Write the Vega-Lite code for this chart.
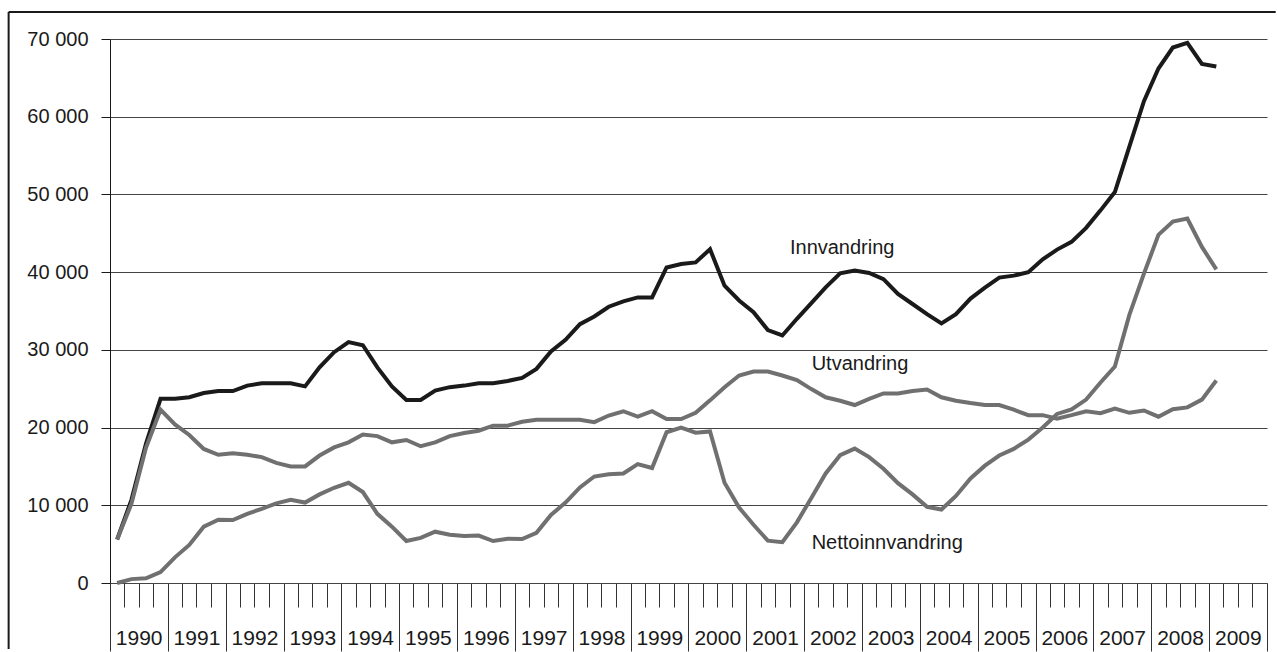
{
  "$schema": "https://vega.github.io/schema/vega-lite/v6.json",
  "autosize": "none",
  "width": 1157,
  "height": 544,
  "padding": {"left": 110, "top": 39, "right": 10, "bottom": 69},
  "background": "white",
  "config": {
    "view": {"stroke": null},
    "font": "Liberation Sans",
    "text": {"font": "Liberation Sans"}
  },
  "datasets": {
    "migration": [
      {"date": "1990-01-01", "Innvandring": 5600, "Utvandring": 5600, "Nettoinnvandring": 0},
      {"date": "1990-04-01", "Innvandring": 10700, "Utvandring": 10200, "Nettoinnvandring": 500},
      {"date": "1990-07-01", "Innvandring": 17900, "Utvandring": 17400, "Nettoinnvandring": 600},
      {"date": "1990-10-01", "Innvandring": 23700, "Utvandring": 22300, "Nettoinnvandring": 1400},
      {"date": "1991-01-01", "Innvandring": 23700, "Utvandring": 20400, "Nettoinnvandring": 3300},
      {"date": "1991-04-01", "Innvandring": 23900, "Utvandring": 19050, "Nettoinnvandring": 4900},
      {"date": "1991-07-01", "Innvandring": 24450, "Utvandring": 17250, "Nettoinnvandring": 7250},
      {"date": "1991-10-01", "Innvandring": 24700, "Utvandring": 16500, "Nettoinnvandring": 8150},
      {"date": "1992-01-01", "Innvandring": 24700, "Utvandring": 16700, "Nettoinnvandring": 8100},
      {"date": "1992-04-01", "Innvandring": 25400, "Utvandring": 16500, "Nettoinnvandring": 8900},
      {"date": "1992-07-01", "Innvandring": 25700, "Utvandring": 16200, "Nettoinnvandring": 9550},
      {"date": "1992-10-01", "Innvandring": 25700, "Utvandring": 15450, "Nettoinnvandring": 10250},
      {"date": "1993-01-01", "Innvandring": 25700, "Utvandring": 15000, "Nettoinnvandring": 10700},
      {"date": "1993-04-01", "Innvandring": 25300, "Utvandring": 15000, "Nettoinnvandring": 10350},
      {"date": "1993-07-01", "Innvandring": 27750, "Utvandring": 16400, "Nettoinnvandring": 11400},
      {"date": "1993-10-01", "Innvandring": 29700, "Utvandring": 17450, "Nettoinnvandring": 12250},
      {"date": "1994-01-01", "Innvandring": 31000, "Utvandring": 18100, "Nettoinnvandring": 12900},
      {"date": "1994-04-01", "Innvandring": 30600, "Utvandring": 19100, "Nettoinnvandring": 11700},
      {"date": "1994-07-01", "Innvandring": 27750, "Utvandring": 18900, "Nettoinnvandring": 8900},
      {"date": "1994-10-01", "Innvandring": 25300, "Utvandring": 18100, "Nettoinnvandring": 7250},
      {"date": "1995-01-01", "Innvandring": 23550, "Utvandring": 18400, "Nettoinnvandring": 5400},
      {"date": "1995-04-01", "Innvandring": 23550, "Utvandring": 17600, "Nettoinnvandring": 5800},
      {"date": "1995-07-01", "Innvandring": 24750, "Utvandring": 18100, "Nettoinnvandring": 6600},
      {"date": "1995-10-01", "Innvandring": 25200, "Utvandring": 18900, "Nettoinnvandring": 6200},
      {"date": "1996-01-01", "Innvandring": 25400, "Utvandring": 19300, "Nettoinnvandring": 6050},
      {"date": "1996-04-01", "Innvandring": 25700, "Utvandring": 19600, "Nettoinnvandring": 6100},
      {"date": "1996-07-01", "Innvandring": 25700, "Utvandring": 20250, "Nettoinnvandring": 5400},
      {"date": "1996-10-01", "Innvandring": 26000, "Utvandring": 20250, "Nettoinnvandring": 5700},
      {"date": "1997-01-01", "Innvandring": 26400, "Utvandring": 20750, "Nettoinnvandring": 5650},
      {"date": "1997-04-01", "Innvandring": 27550, "Utvandring": 21000, "Nettoinnvandring": 6450},
      {"date": "1997-07-01", "Innvandring": 29800, "Utvandring": 21000, "Nettoinnvandring": 8750},
      {"date": "1997-10-01", "Innvandring": 31300, "Utvandring": 21000, "Nettoinnvandring": 10350},
      {"date": "1998-01-01", "Innvandring": 33300, "Utvandring": 21000, "Nettoinnvandring": 12300},
      {"date": "1998-04-01", "Innvandring": 34300, "Utvandring": 20700, "Nettoinnvandring": 13700},
      {"date": "1998-07-01", "Innvandring": 35550, "Utvandring": 21550, "Nettoinnvandring": 14000},
      {"date": "1998-10-01", "Innvandring": 36250, "Utvandring": 22100, "Nettoinnvandring": 14100},
      {"date": "1999-01-01", "Innvandring": 36750, "Utvandring": 21400, "Nettoinnvandring": 15300},
      {"date": "1999-04-01", "Innvandring": 36750, "Utvandring": 22100, "Nettoinnvandring": 14800},
      {"date": "1999-07-01", "Innvandring": 40600, "Utvandring": 21100, "Nettoinnvandring": 19400},
      {"date": "1999-10-01", "Innvandring": 41050, "Utvandring": 21100, "Nettoinnvandring": 20000},
      {"date": "2000-01-01", "Innvandring": 41250, "Utvandring": 21900, "Nettoinnvandring": 19350},
      {"date": "2000-04-01", "Innvandring": 42950, "Utvandring": 23500, "Nettoinnvandring": 19500},
      {"date": "2000-07-01", "Innvandring": 38250, "Utvandring": 25200, "Nettoinnvandring": 12900},
      {"date": "2000-10-01", "Innvandring": 36350, "Utvandring": 26700, "Nettoinnvandring": 9700},
      {"date": "2001-01-01", "Innvandring": 34850, "Utvandring": 27200, "Nettoinnvandring": 7500},
      {"date": "2001-04-01", "Innvandring": 32550, "Utvandring": 27200, "Nettoinnvandring": 5450},
      {"date": "2001-07-01", "Innvandring": 31850, "Utvandring": 26700, "Nettoinnvandring": 5250},
      {"date": "2001-10-01", "Innvandring": 34000, "Utvandring": 26100, "Nettoinnvandring": 7800},
      {"date": "2002-01-01", "Innvandring": 36000, "Utvandring": 24950, "Nettoinnvandring": 10950},
      {"date": "2002-04-01", "Innvandring": 38050, "Utvandring": 23900, "Nettoinnvandring": 14100},
      {"date": "2002-07-01", "Innvandring": 39850, "Utvandring": 23450, "Nettoinnvandring": 16450},
      {"date": "2002-10-01", "Innvandring": 40200, "Utvandring": 22900, "Nettoinnvandring": 17300},
      {"date": "2003-01-01", "Innvandring": 39900, "Utvandring": 23700, "Nettoinnvandring": 16200},
      {"date": "2003-04-01", "Innvandring": 39100, "Utvandring": 24400, "Nettoinnvandring": 14700},
      {"date": "2003-07-01", "Innvandring": 37200, "Utvandring": 24400, "Nettoinnvandring": 12850},
      {"date": "2003-10-01", "Innvandring": 35900, "Utvandring": 24700, "Nettoinnvandring": 11400},
      {"date": "2004-01-01", "Innvandring": 34600, "Utvandring": 24900, "Nettoinnvandring": 9800},
      {"date": "2004-04-01", "Innvandring": 33400, "Utvandring": 23900, "Nettoinnvandring": 9450},
      {"date": "2004-07-01", "Innvandring": 34600, "Utvandring": 23450, "Nettoinnvandring": 11200},
      {"date": "2004-10-01", "Innvandring": 36600, "Utvandring": 23150, "Nettoinnvandring": 13450},
      {"date": "2005-01-01", "Innvandring": 38000, "Utvandring": 22900, "Nettoinnvandring": 15100},
      {"date": "2005-04-01", "Innvandring": 39300, "Utvandring": 22900, "Nettoinnvandring": 16400},
      {"date": "2005-07-01", "Innvandring": 39550, "Utvandring": 22300, "Nettoinnvandring": 17250},
      {"date": "2005-10-01", "Innvandring": 40000, "Utvandring": 21600, "Nettoinnvandring": 18450},
      {"date": "2006-01-01", "Innvandring": 41650, "Utvandring": 21600, "Nettoinnvandring": 20000},
      {"date": "2006-04-01", "Innvandring": 42900, "Utvandring": 21150, "Nettoinnvandring": 21750},
      {"date": "2006-07-01", "Innvandring": 43900, "Utvandring": 21600, "Nettoinnvandring": 22350},
      {"date": "2006-10-01", "Innvandring": 45700, "Utvandring": 22100, "Nettoinnvandring": 23600},
      {"date": "2007-01-01", "Innvandring": 47950, "Utvandring": 21850, "Nettoinnvandring": 25800},
      {"date": "2007-04-01", "Innvandring": 50300, "Utvandring": 22450, "Nettoinnvandring": 27850},
      {"date": "2007-07-01", "Innvandring": 56150, "Utvandring": 21900, "Nettoinnvandring": 34500},
      {"date": "2007-10-01", "Innvandring": 62000, "Utvandring": 22200, "Nettoinnvandring": 39800},
      {"date": "2008-01-01", "Innvandring": 66200, "Utvandring": 21400, "Nettoinnvandring": 44800},
      {"date": "2008-04-01", "Innvandring": 68900, "Utvandring": 22350, "Nettoinnvandring": 46500},
      {"date": "2008-07-01", "Innvandring": 69500, "Utvandring": 22600, "Nettoinnvandring": 46900},
      {"date": "2008-10-01", "Innvandring": 66800, "Utvandring": 23600, "Nettoinnvandring": 43250},
      {"date": "2009-01-01", "Innvandring": 66450, "Utvandring": 26050, "Nettoinnvandring": 40350}
    ],
    "labels": [
      {"label": "Innvandring", "date": "2001-10-03", "value": 42300},
      {"label": "Utvandring", "date": "2002-02-17", "value": 27400},
      {"label": "Nettoinnvandring", "date": "2002-02-17", "value": 4350}
    ]
  },
  "layer": [
    {
      "data": {"name": "migration"},
      "transform": [
        {"fold": ["Innvandring", "Utvandring", "Nettoinnvandring"], "as": ["series", "value"]}
      ],
      "mark": {"type": "line", "strokeWidth": 4, "strokeJoin": "miter"},
      "encoding": {
        "x": {
          "field": "date", "type": "temporal", "timeUnit": "utcyearquarter", "bandPosition": 0.5,
          "scale": {"type": "utc", "domain": [{"year": 1990, "month": 1, "date": 1, "utc": true}, {"year": 2010, "month": 1, "date": 1, "utc": true}], "nice": false},
          "axis": {
            "title": null,
            "grid": false,
            "tickCount": {"interval": "month", "step": 3},
            "tickSize": {"condition": {"test": "utcmonth(datum.value) == 0", "value": 68}, "value": 24},
            "tickColor": "#333333",
            "tickWidth": 1,
            "domainColor": "#444444",
            "domainWidth": 1,
            "labelExpr": "utcmonth(datum.value) == 6 ? '' + utcyear(datum.value) : ''",
            "labelFontSize": 21,
            "labelColor": "#1a1a1a",
            "labelPadding": 20,
            "labelOverlap": false,
            "labelFlush": false,
            "labelBound": false
          }
        },
        "y": {
          "field": "value", "type": "quantitative",
          "scale": {"domain": [0, 70000], "nice": false, "zero": false},
          "axis": {
            "title": null,
            "grid": true,
            "values": [0, 10000, 20000, 30000, 40000, 50000, 60000, 70000],
            "labelExpr": "replace(format(datum.value, ','), ',', ' ')",
            "tickSize": 9,
            "tickColor": "#1a1a1a",
            "domainColor": "#1a1a1a",
            "gridColor": "#444444",
            "gridWidth": 1,
            "gridOpacity": 1,
            "labelFontSize": 20,
            "labelPadding": 13,
            "labelColor": "#1a1a1a"
          }
        },
        "color": {
          "field": "series", "type": "nominal",
          "scale": {"domain": ["Innvandring", "Utvandring", "Nettoinnvandring"], "range": ["#1a1a1a", "#707070", "#707070"]},
          "legend": null
        }
      }
    },
    {
      "data": {"name": "labels"},
      "mark": {"type": "text", "align": "left", "baseline": "alphabetic", "fontSize": 20, "color": "#1a1a1a"},
      "encoding": {
        "x": {"field": "date", "type": "temporal"},
        "y": {"field": "value", "type": "quantitative"},
        "text": {"field": "label"}
      }
    },
    {
      "data": {"values": [{}]},
      "mark": {"type": "rule", "stroke": "#1a1a1a", "strokeWidth": 2, "clip": false},
      "encoding": {
        "x": {"datum": {"year": 1988, "month": 4, "date": 1, "utc": true}, "type": "temporal"},
        "x2": {"datum": {"year": 2010, "month": 2, "date": 25, "utc": true}},
        "y": {"datum": 73480, "type": "quantitative"}
      }
    },
    {
      "data": {"values": [{}]},
      "mark": {"type": "rule", "stroke": "#1a1a1a", "strokeWidth": 2, "clip": false},
      "encoding": {
        "x": {"datum": {"year": 1988, "month": 4, "date": 1, "utc": true}, "type": "temporal"},
        "y": {"datum": 73480, "type": "quantitative"},
        "y2": {"datum": -8500}
      }
    }
  ]
}
